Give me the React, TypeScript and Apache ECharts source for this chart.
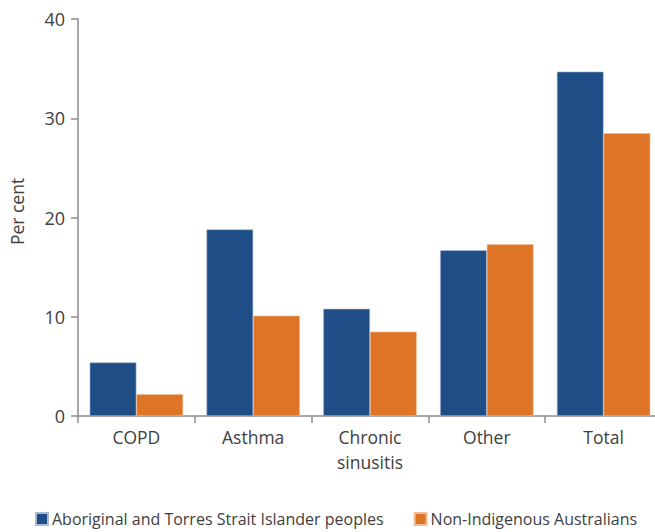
import React, { useEffect, useRef } from "react";
import * as echarts from "echarts";

const categories = ["COPD", "Asthma", "Chronic\nsinusitis", "Other", "Total"];
const indigenous = [5.4, 18.8, 10.8, 16.7, 34.7];
const nonIndigenous = [2.2, 10.1, 8.5, 17.3, 28.5];
const seriesNames = ["Aboriginal and Torres Strait Islander peoples", "Non-Indigenous Australians"];

export default function App() {
  const ref = useRef<HTMLDivElement>(null);
  useEffect(() => {
    const chart = echarts.init(ref.current!, null, { renderer: "svg" });
    const font = "'Open Sans', 'Noto Sans', sans-serif";
    chart.setOption({
      animation: false,
      textStyle: { fontFamily: font },
      grid: { left: 78, width: 584, top: 19, bottom: 116, outerBoundsMode: "none", containLabel: false },
      legend: {
        top: 511,
        left: 35,
        padding: 0,
        itemWidth: 12,
        itemHeight: 12,
        itemGap: 30,
        icon: "rect",
        textStyle: { fontSize: 16, color: "#404040", fontFamily: font, padding: [0, 0, 0, -1] },
        data: seriesNames,
      },
      xAxis: {
        type: "category",
        data: categories,
        axisLine: { lineStyle: { color: "#8c8c8c", width: 1.5 } },
        axisTick: { show: true, length: 7, lineStyle: { color: "#8c8c8c", width: 1.5 } },
        axisLabel: { fontSize: 17.5, color: "#404040", margin: 8, lineHeight: 25, fontFamily: font },
      },
      yAxis: {
        type: "value",
        min: 0,
        max: 40,
        interval: 10,
        name: "Per cent",
        nameLocation: "middle",
        nameGap: 52,
        nameTextStyle: { fontSize: 17.5, color: "#404040", fontFamily: font, padding: [0, 0, 0, 12] },
        axisLine: { show: true, lineStyle: { color: "#8c8c8c", width: 1.5 } },
        axisTick: { show: true, length: 7, lineStyle: { color: "#8c8c8c", width: 1.5 } },
        splitLine: { show: false },
        axisLabel: { fontSize: 18, color: "#404040", margin: 13, fontFamily: font },
      },
      series: [
        {
          name: seriesNames[0],
          type: "bar",
          data: indigenous,
          barGap: "0%",
          barCategoryGap: "20%",
          itemStyle: { color: "#1f4e87", borderColor: "#a9bbd3", borderWidth: 0.6 },
        },
        {
          name: seriesNames[1],
          type: "bar",
          data: nonIndigenous,
          itemStyle: { color: "#de7426", borderColor: "#f0c09a", borderWidth: 0.6 },
        },
      ],
    });
    return () => chart.dispose();
  }, []);
  return <div ref={ref} style={{ width: 655, height: 532, position: "absolute", left: 0, top: 0, overflow: "hidden" }} />;
}
